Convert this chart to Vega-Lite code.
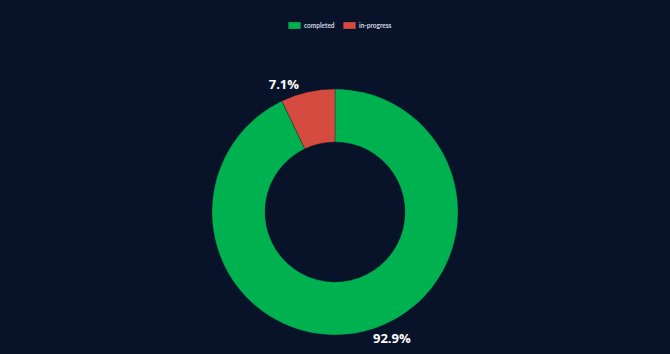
{
  "$schema": "https://vega.github.io/schema/vega-lite/v6.json",
  "width": 670,
  "height": 354,
  "autosize": {"type": "fit", "contains": "padding"},
  "padding": {"left": 0, "right": 0, "top": 70, "bottom": 0},
  "background": "#08132a",
  "config": {
    "view": {"stroke": null},
    "font": "Open Sans"
  },
  "data": {
    "values": [
      {"status": "completed", "value": 92.9, "label": "92.9%", "ord": 1},
      {"status": "in-progress", "value": 7.1, "label": "7.1%", "ord": 2}
    ]
  },
  "transform": [
    {"stack": "value", "groupby": [], "sort": [{"field": "ord"}], "as": ["v0", "v1"]},
    {"calculate": "(datum.v0 + datum.v1) / 2", "as": "mid"}
  ],
  "layer": [
    {
      "mark": {"type": "arc", "innerRadius": 70, "outerRadius": 123, "stroke": "#08132a", "strokeWidth": 0.3},
      "encoding": {
        "theta": {"field": "v0", "type": "quantitative", "scale": {"domain": [0, 100]}, "stack": null},
        "theta2": {"field": "v1"},
        "color": {
          "field": "status",
          "type": "nominal",
          "scale": {"domain": ["completed", "in-progress"], "range": ["#00b14f", "#d64b40"]},
          "legend": {
            "title": null,
            "orient": "none",
            "direction": "horizontal",
            "legendX": 288,
            "legendY": -51,
            "symbolType": "M-1,-0.55H1V0.55H-1Z",
            "symbolSize": 150,
            "symbolStrokeWidth": 0,
            "labelColor": "#d0d6e0",
            "labelFontSize": 6.5,
            "labelFontWeight": "bold",
            "labelFont": "Lato",
            "labelOffset": 3,
            "columnPadding": 8
          }
        }
      }
    },
    {
      "transform": [{"filter": "datum.status === 'in-progress'"}],
      "mark": {"type": "text", "radius": 140, "align": "right", "baseline": "middle", "dx": -5, "dy": 10, "fontSize": 13, "fontWeight": "bold", "color": "#ffffff"},
      "encoding": {
        "theta": {"field": "mid", "type": "quantitative", "scale": {"domain": [0, 100]}, "stack": null},
        "text": {"field": "label"}
      }
    },
    {
      "transform": [{"filter": "datum.status === 'completed'"}],
      "mark": {"type": "text", "radius": 140, "align": "left", "baseline": "middle", "dx": 7, "dy": -10, "fontSize": 13, "fontWeight": "bold", "color": "#ffffff"},
      "encoding": {
        "theta": {"field": "mid", "type": "quantitative", "scale": {"domain": [0, 100]}, "stack": null},
        "text": {"field": "label"}
      }
    }
  ]
}
